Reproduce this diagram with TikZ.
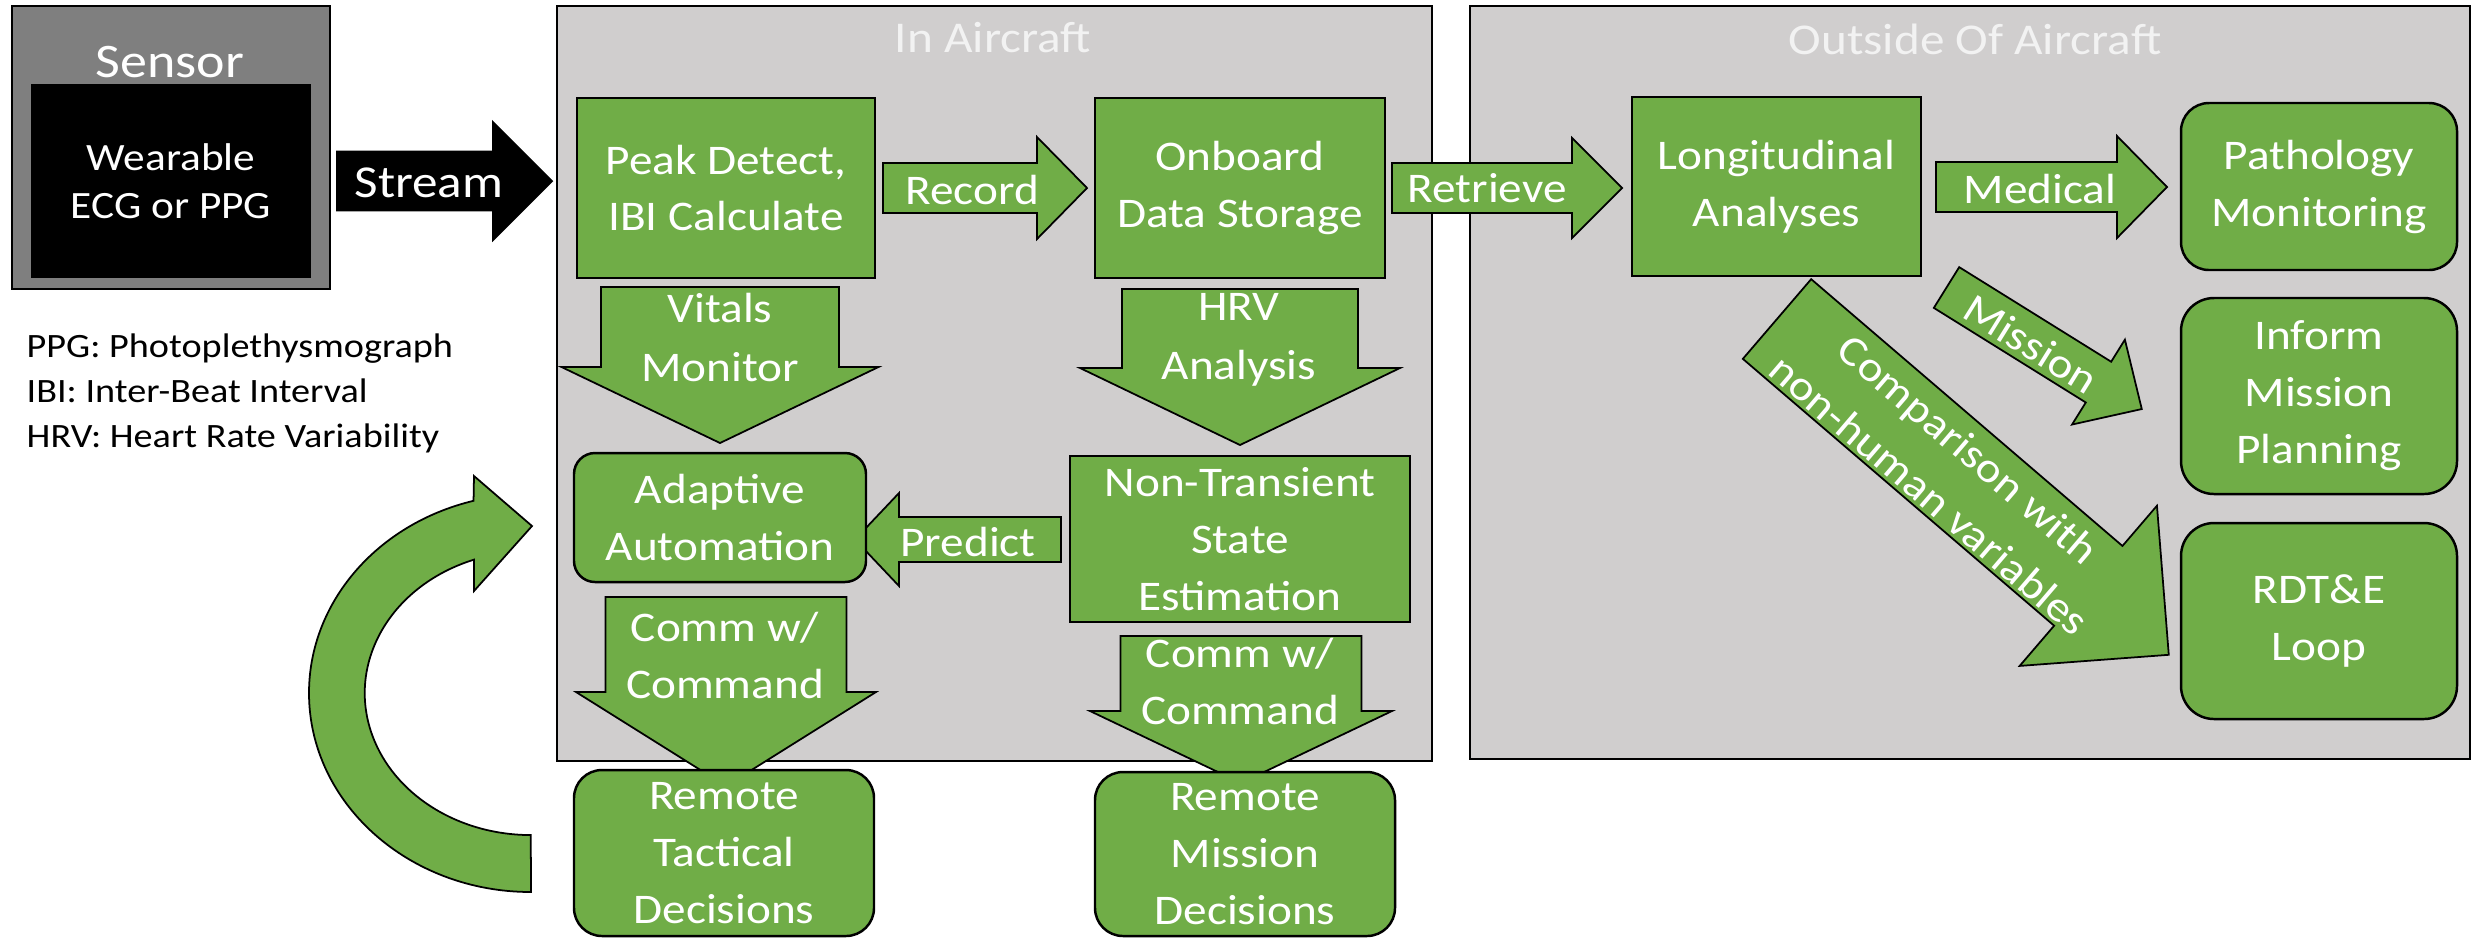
\documentclass[tikz,border=0pt]{standalone}
\usepackage{fontspec}
\setmainfont{Carlito}[FakeStretch=1.12]
\usetikzlibrary{fit}
\definecolor{grn}{HTML}{70AD47}
\definecolor{panelgray}{HTML}{D0CECE}
\definecolor{sensorgray}{HTML}{7F7F7F}
\newcommand\txtbig{\fontsize{12pt}{16.2pt}\selectfont}
% block arrow: #1 style, #2 start, #3 angle, #4 length, #5 half body, #6 half head, #7 head length
\newcommand\blockarrow[7]{%
  \begin{scope}[shift={#2},rotate=#3]
    \draw[#1] (0,-#5) -- ({#4-#7},-#5) -- ({#4-#7},-#6) -- (#4,0) -- ({#4-#7},#6) -- ({#4-#7},#5) -- (0,#5) -- cycle;
  \end{scope}}
\begin{document}
\begin{tikzpicture}[x=0.01cm,y=-0.01cm,
  panelbox/.style={draw=black, fill=panelgray, line width=0.6pt, inner sep=0pt},
  paneltitle/.style={text=white!95!black, font=\fontsize{12.5pt}{15pt}\selectfont, inner sep=0pt},
  gbox/.style 2 args={draw=black, fill=grn, line width=0.7pt, text=white, align=center, inner sep=0pt,
     font=\txtbig, minimum width=#1*0.01cm, minimum height=#2*0.01cm},
  arr/.style={draw=black, fill=grn, line width=0.5pt},
  blackarr/.style={draw=black, fill=black, line width=0.5pt},
  atext/.style={text=white, align=center, font=\txtbig, inner sep=0pt},
  legend/.style={anchor=base west, font=\fontsize{9.7pt}{12pt}\selectfont, inner sep=0pt}]
\useasboundingbox (0,0) rectangle (2476,938);

% panels
\node[panelbox, fit={(557,6) (1432,761)}] (inair) {};
\node[paneltitle] (inairT) at (993,38) {In Aircraft};
\node[panelbox, fit={(1470,6) (2470,759)}] (outair) {};
\node[paneltitle] (outairT) at (1975,39) {Outside Of Aircraft};

% sensor
\node[draw=black, fill=sensorgray, line width=0.8pt, fit={(12,6) (330,289)}, inner sep=0pt] (sensor) {};
\node[fill=black, minimum width=2.8cm, minimum height=1.94cm, inner sep=0pt, text=white, align=center,
      font=\fontsize{11pt}{13.7pt}\selectfont] (wear) at (171,181) {Wearable\\ECG or PPG};
\node[text=white, font=\fontsize{13.7pt}{16pt}\selectfont, inner sep=0pt] (sensorT) at (170,62) {Sensor};

% legend
\node[legend] (leg1) at (26,357) {PPG: Photoplethysmograph};
\node[legend] (leg2) at (26,402) {IBI: Inter-Beat Interval};
\node[legend] (leg3) at (26,447) {HRV: Heart Rate Variability};

% curved feedback arrow
\draw[arr] (531,892) arc[start angle=90, end angle=255, x radius=222, y radius=199]
  -- (474,476) -- (532,526) -- (474,591) -- (474,559.6)
  arc[start angle=250, end angle=90, x radius=166, y radius=142] -- cycle;

% block arrows
\blockarrow{blackarr}{(337,181)}{0}{215}{29.5}{59}{59}
\blockarrow{arr}{(883,188)}{0}{204}{25}{51}{50}
\blockarrow{arr}{(1392,188)}{0}{230}{25}{50}{50}
\blockarrow{arr}{(1936,187)}{0}{231}{25}{51}{50}
\blockarrow{arr}{(720,287)}{-90}{156}{119}{158.5}{76}
\blockarrow{arr}{(1240,289)}{-90}{156}{118}{160}{77}
\blockarrow{arr}{(1061,539.5)}{180}{206}{22.5}{46.5}{44}
\blockarrow{arr}{(726,597)}{-90}{189}{120.5}{150}{94}
\blockarrow{arr}{(1241,636)}{-90}{147}{120.5}{151}{72}
\blockarrow{arr}{(1946.5,287.5)}{-31.9}{230}{24}{50}{51}
\blockarrow{arr}{(1777,319)}{-40.6}{516}{52.5}{105.5}{106}

% boxes
\node[gbox={298}{180}] (peak) at (726,188) {Peak Detect,\\IBI Calculate};
\node[gbox={290}{180}] (onboard) at (1240,188) {Onboard\\Data Storage};
\node[gbox={292}{129}, rounded corners=0.21cm] (adapt) at (720,517.5) {Adaptive\\Automation};
\node[gbox={340}{166}] (nontrans) at (1240,539) {Non-Transient\\State\\Estimation};
\node[gbox={300}{166}, rounded corners=0.28cm] (rtact) at (724,853) {Remote\\Tactical\\Decisions};
\node[gbox={300}{164}, rounded corners=0.28cm] (rmiss) at (1245,854) {Remote\\Mission\\Decisions};
\node[gbox={289}{179}] (longi) at (1776.5,186.5) {Longitudinal\\Analyses};
\node[gbox={276}{167}, rounded corners=0.28cm] (patho) at (2319,186.5) {Pathology\\Monitoring};
\node[gbox={276}{196}, rounded corners=0.33cm] (inform) at (2319,396) {Inform\\Mission\\Planning};
\node[gbox={276}{196}, rounded corners=0.33cm] (rdte) at (2319,621) {RDT\&E\\Loop};

% arrow labels
\node[atext, font=\fontsize{13pt}{16pt}\selectfont] (tStream) at (429,183) {Stream};
\node[atext] (tRecord) at (972,190) {Record};
\node[atext] (tRetrieve) at (1487,188) {Retrieve};
\node[atext] (tMedical) at (2040,189) {Medical};
\node[atext, font=\fontsize{12pt}{16.8pt}\selectfont] (tVitals) at (720,337.5) {Vitals\\Monitor};
\node[atext, font=\fontsize{12pt}{16.8pt}\selectfont] (tHRV) at (1239,340) {HRV\\Analysis};
\node[atext] (tPredict) at (968,542) {Predict};
\node[atext] (tComm1) at (725,655) {Comm w/\\Command};
\node[atext] (tComm2) at (1240,681.5) {Comm w/\\Command};
\node[atext, rotate=-31.9] (tMission) at (2031,344) {Mission};
\node[atext, rotate=-40.6, font=\fontsize{12pt}{17pt}\selectfont] (tComp) at (1949,472) {Comparison with\\non-human variables};
\end{tikzpicture}
\end{document}
